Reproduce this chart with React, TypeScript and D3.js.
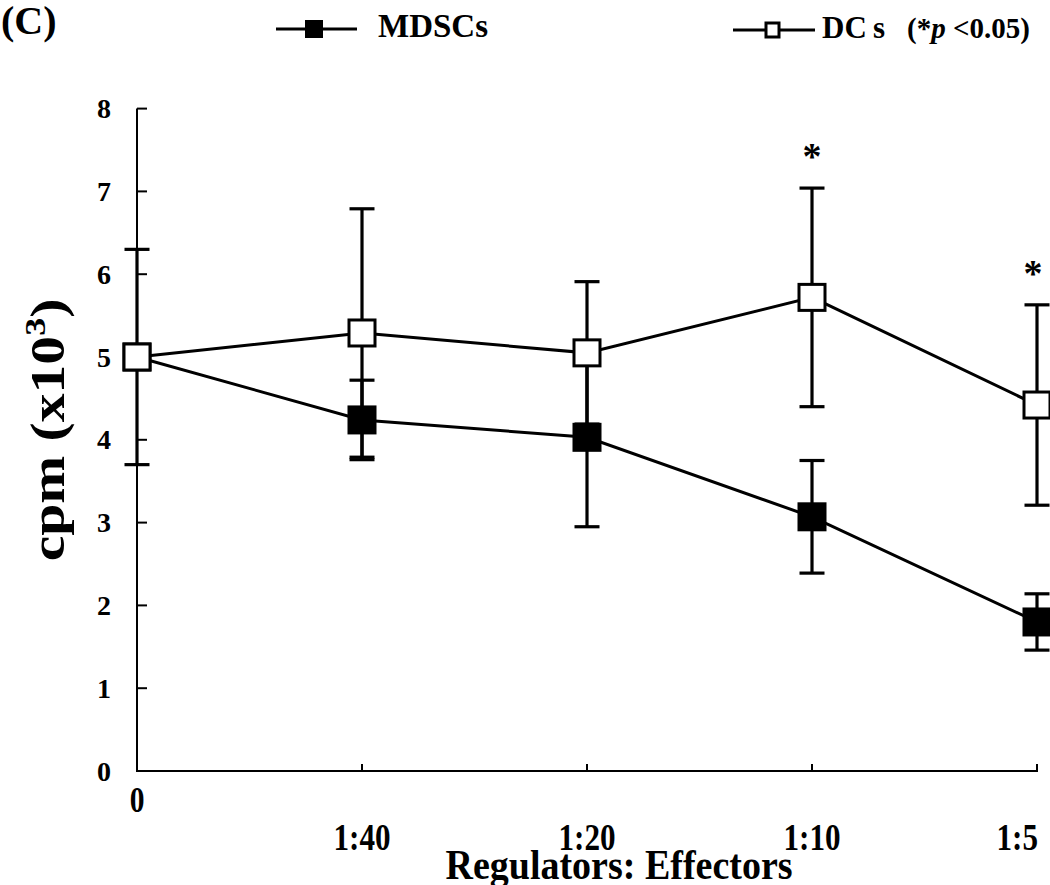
import React from "react";
import * as d3 from "d3";

const categories = ["0", "1:40", "1:20", "1:10", "1:5"];
const dcMean = [5.0, 5.29, 5.05, 5.72, 4.42];
const dcErr = [1.3, 1.5, 0.86, 1.32, 1.21];
const mdscMean = [5.0, 4.24, 4.03, 3.07, 1.8];
const mdscErr = [0, 0.48, 1.08, 0.68, 0.34];
const yTicks = [0, 1, 2, 3, 4, 5, 6, 7, 8];
const significant = ["1:10", "1:5"];

const FONT = "'Liberation Serif', 'Times New Roman', serif";

export default function App() {
  const width = 1050;
  const height = 885;
  const x = d3.scalePoint<string>().domain(categories).range([137, 1037]);
  const y = d3.scaleLinear().domain([0, 8]).range([771, 108.6]);

  const line = d3
    .line<number>()
    .x((_, i) => x(categories[i]) as number)
    .y((d) => y(d));

  const capW = 25;
  const markerSize = 29;

  const errorBars = (means: number[], errs: number[], key: string) =>
    means.map((m, i) => {
      const cx = x(categories[i]) as number;
      if (errs[i] <= 0) return null;
      const yt = y(m + errs[i]);
      const yb = y(m - errs[i]);
      return (
        <g key={key + i} stroke="#000" strokeWidth={3.2}>
          <line x1={cx} x2={cx} y1={yt} y2={yb} />
          <line x1={cx - capW / 2} x2={cx + capW / 2} y1={yt} y2={yt} />
          <line x1={cx - capW / 2} x2={cx + capW / 2} y1={yb} y2={yb} />
        </g>
      );
    });

  return (
    <svg
      width={width}
      height={height}
      style={{ position: "absolute", left: 0, top: 0, background: "#fff" }}
      fontFamily={FONT}
      fontWeight="bold"
    >
      <rect x={0} y={0} width={width} height={height} fill="#fff" />
      {/* panel label */}
      <text x={1} y={34} fontSize={40}>(C)</text>

      {/* legend */}
      <g>
        <line x1={276} x2={357} y1={29} y2={29} stroke="#000" strokeWidth={3.2} />
        <rect x={305} y={20} width={18} height={18} fill="#000" />
        <text x={378} y={37} fontSize={33}>MDSCs</text>

        <line x1={733} x2={815} y1={30} y2={30} stroke="#000" strokeWidth={3.2} />
        <rect x={766} y={23} width={13} height={14} fill="#fff" stroke="#000" strokeWidth={3} />
        <text x={822} y={38} fontSize={31}>DC</text>
        <text x={873} y={38} fontSize={31}>s</text>
        <text x={907} y={38} fontSize={29}>
          (*<tspan fontStyle="italic">p</tspan> &lt;0.05)
        </text>
      </g>

      {/* axes */}
      <g stroke="#000" strokeWidth={2}>
        <line x1={137} x2={137} y1={y(8)} y2={y(0)} />
        <line x1={136} x2={1038} y1={y(0)} y2={y(0)} />
        {yTicks.map((t) => (
          <line key={"yt" + t} x1={137} x2={147} y1={y(t)} y2={y(t)} />
        ))}
        {categories.slice(1).map((c) => (
          <line key={"xt" + c} x1={x(c)} x2={x(c)} y1={y(0)} y2={y(0) - 7} />
        ))}
      </g>
      {yTicks.map((t) => (
        <text key={"yl" + t} x={104} y={y(t) + 9.5} fontSize={28} textAnchor="middle">
          {t}
        </text>
      ))}
      {categories.map((c, i) => {
        const isLast = i === categories.length - 1;
        const ty = i === 0 ? 812 : 850;
        return (
          <text
            key={"xl" + c}
            transform={`translate(${(x(c) as number) + (isLast ? 1 : 0)}, ${ty}) scale(0.82, 1)`}
            fontSize={i === 0 ? 36 : 38}
            textAnchor={isLast ? "end" : "middle"}
          >
            {c}
          </text>
        );
      })}
      <text
        transform="translate(619, 879) scale(1, 1.1)"
        fontSize={38}
        textAnchor="middle"
      >
        Regulators: Effectors
      </text>
      <text
        transform={`translate(64, 430) rotate(-90) scale(1.2, 1)`}
        fontSize={48}
        textAnchor="middle"
      >
        cpm (x10<tspan fontSize={30} dy={-19}>3</tspan>
        <tspan dy={19}>)</tspan>
      </text>

      {/* series lines */}
      <path d={line(mdscMean) || ""} fill="none" stroke="#000" strokeWidth={3} />
      <path d={line(dcMean) || ""} fill="none" stroke="#000" strokeWidth={3} />

      {errorBars(mdscMean, mdscErr, "m")}
      {errorBars(dcMean, dcErr, "d")}

      {/* markers */}
      {mdscMean.map((m, i) => (
        <rect
          key={"mm" + i}
          x={(x(categories[i]) as number) - markerSize / 2}
          y={y(m) - markerSize / 2}
          width={markerSize}
          height={markerSize}
          fill="#000"
        />
      ))}
      {dcMean.map((m, i) => (
        <rect
          key={"dm" + i}
          x={(x(categories[i]) as number) - (markerSize - 3) / 2}
          y={y(m) - (markerSize - 3) / 2}
          width={markerSize - 3}
          height={markerSize - 3}
          fill="#fff"
          stroke="#000"
          strokeWidth={3}
        />
      ))}

      {/* significance */}
      {significant.map((c) => {
        const i = categories.indexOf(c);
        const isLast = i === categories.length - 1;
        return (
          <text
            key={"s" + c}
            x={(x(c) as number) - (isLast ? 4 : 0)}
            y={y(dcMean[i] + dcErr[i]) - 19}
            fontSize={38}
            textAnchor="middle"
          >
            *
          </text>
        );
      })}
    </svg>
  );
}
